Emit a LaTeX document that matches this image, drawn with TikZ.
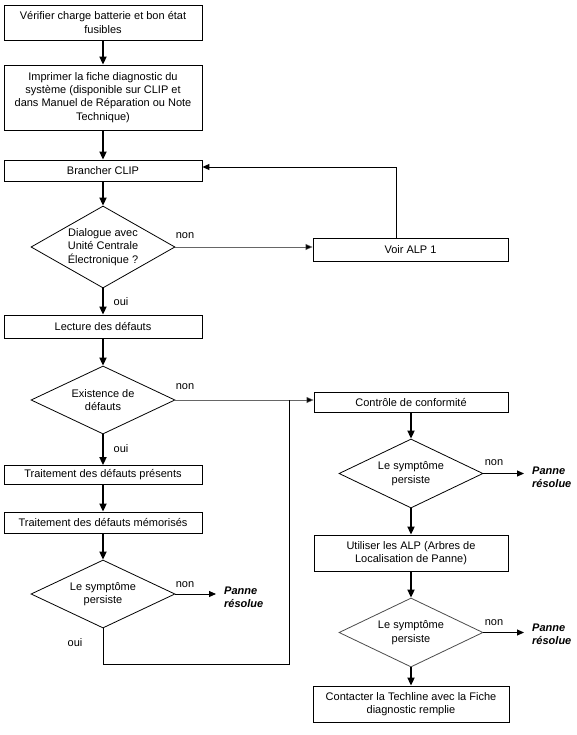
\documentclass[tikz,border=0pt]{standalone}
\usepackage{fontspec}
\setmainfont{Liberation Sans}
\usetikzlibrary{arrows.meta,shapes.geometric}
\begin{document}
\begin{tikzpicture}[x=1pt,y=-1pt,
  every node/.style={font=\fontsize{11}{13.3}\selectfont},
  box/.style={draw, line width=0.8pt, inner sep=0pt, align=center, minimum width=198pt},
  dia/.style={draw, line width=0.8pt, diamond, inner sep=0pt, minimum width=144pt},
  dtext/.style={align=center, inner sep=0pt},
  main/.style={line width=1.7pt, -{Triangle[length=8pt,width=7pt]}},
  thinarr/.style={line width=0.5pt, draw=black!60, -{Triangle[length=7pt,width=6pt,fill=black]}},
  solarr/.style={line width=0.9pt, -{Triangle[length=7pt,width=6pt]}},
  plain/.style={line width=0.9pt},
  lab/.style={inner sep=0pt},
  res/.style={inner sep=0pt, anchor=west, align=left, font=\fontsize{11}{13.3}\selectfont\bfseries\itshape}]
\fill[white] (0,0) rectangle (576,735);
\useasboundingbox (0,0) rectangle (576,735);
% left column
\node[box, minimum height=35pt] (b1) at (103,22.5) {Vérifier charge batterie et bon état\\fusibles};
\node[box, minimum height=65pt] (b2) at (103,97.5) {Imprimer la fiche diagnostic du\\système (disponible sur CLIP et\\dans Manuel de Réparation ou Note\\Technique)};
\node[box, minimum height=21pt] (b3) at (103,170.5) {Brancher CLIP};
\node[dia, minimum height=82pt] (d1) at (103,247) {};
\node[dtext] (t1) at (d1.center) {Dialogue avec\\Unité Centrale\\Électronique ?};
\node[box, minimum width=195pt, minimum height=23pt] (voir) at (410.5,249.5) {Voir ALP 1};
\node[box, minimum height=23pt] (lect) at (103,326.5) {Lecture des défauts};
\node[dia, minimum height=68pt] (d2) at (103,400) {};
\node[dtext] (t2) at (d2.center) {Existence de\\défauts};
\node[box, minimum height=19pt] (tp) at (103,475) {Traitement des défauts présents};
\node[box, minimum height=21pt] (tm) at (103,522.5) {Traitement des défauts mémorisés};
\node[dia, minimum height=68pt] (d3) at (103,594) {};
\node[dtext] (t3) at (d3.center) {Le symptôme\\persiste};
\node[res] (p1) at (224,597) {Panne\\résolue};
% right column
\node[box, minimum width=194pt, minimum height=20pt] (ctrl) at (411,402) {Contrôle de conformité};
\node[dia, minimum height=69pt] (d4) at (411,473.5) {};
\node[dtext] (t4) at (d4.center) {Le symptôme\\persiste};
\node[res] (p2) at (532,477) {Panne\\résolue};
\node[box, minimum width=194pt, minimum height=36pt] (alp) at (411,553) {Utiliser les ALP (Arbres de\\Localisation de Panne)};
\node[dia, minimum height=69pt, draw=black!70] (d5) at (411,632.5) {};
\node[dtext] (t5) at (d5.center) {Le symptôme\\persiste};
\node[res] (p3) at (532,634) {Panne\\résolue};
\node[box, minimum width=196pt, minimum height=36pt] (tech) at (411,704) {Contacter la Techline avec la Fiche\\diagnostic remplie};
% labels
\node[lab] (n1) at (185,236) {non};
\node[lab] (o1) at (121,302) {oui};
\node[lab] (n2) at (185,387) {non};
\node[lab] (o2) at (121,449) {oui};
\node[lab] (n3) at (185,585) {non};
\node[lab] (o3) at (75,643) {oui};
\node[lab] (n4) at (494,463) {non};
\node[lab] (n5) at (494,623) {non};
% coordinates
\coordinate (fb) at (396,167);
\coordinate (j) at (289,400);
\coordinate (lp) at (289,664);
% connectors
\draw[main] (b1) -- (b2);
\draw[main] (b2) -- (b3);
\draw[main] (b3) -- (d1);
\draw[main] (d1) -- (lect);
\draw[main] (lect) -- (d2);
\draw[main] (d2) -- (tp);
\draw[main] (tp) -- (tm);
\draw[main] (tm) -- (d3);
\draw[main] (ctrl) -- (d4);
\draw[main] (d4) -- (alp);
\draw[main] (alp) -- (d5);
\draw[main] (d5) -- (tech);
\draw[thinarr] (d1.east) -- (voir.west |- d1.east);
\draw[solarr] (voir.north -| fb) -- (fb) -- (b3.east |- fb);
\draw[thinarr] (d2.east) -- (ctrl.west |- d2.east);
\draw[plain] (d3.south) -- (d3.south |- lp) -- (lp) -- (j);
\draw[solarr] (d3.east) -- ([xshift=-8pt]p1.west |- d3.east);
\draw[solarr] (d4.east) -- ([xshift=-8pt]p2.west |- d4.east);
\draw[solarr] (d5.east) -- ([xshift=-8pt]p3.west |- d5.east);
\end{tikzpicture}
\end{document}
